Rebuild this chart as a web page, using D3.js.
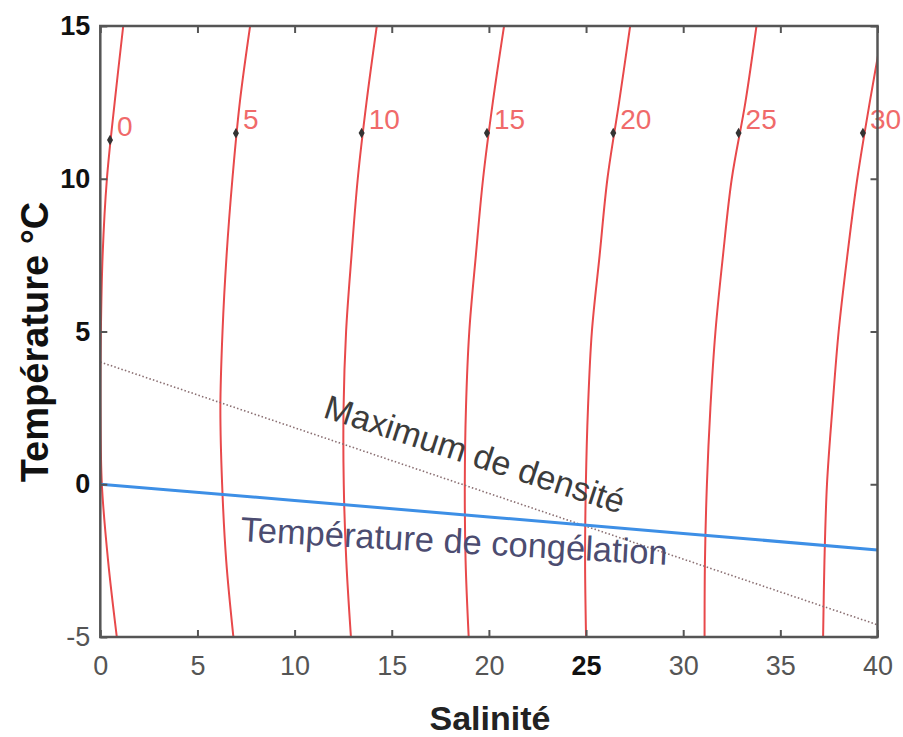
<!doctype html>
<html>
<head>
<meta charset="UTF-8">
<title>Salinité - Température</title>
<script src="https://d3js.org/d3.v7.min.js"></script>
<style>
  body { margin: 0; background: #fff; }
  * { font-family: "Liberation Sans", Arial, sans-serif; }
</style>
</head>
<body>
<svg id="chart" width="903" height="737"></svg>
<script>
var tempLevels = [15, 12.5, 10, 7.5, 5, 2.5, 0, -2.5, -5];

// salinity of each sigma-t curve at the temperatures above
var sigma0  = [1.18, 0.74, 0.34, 0.12, 0.03, 0.01, 0.08, 0.40, 0.85];
var sigma5  = [7.71, 7.18, 6.80, 6.50, 6.29, 6.18, 6.27, 6.48, 6.85];
var sigma10 = [14.23, 13.70, 13.25, 12.93, 12.65, 12.52, 12.53, 12.66, 12.90];
var sigma15 = [20.78, 20.20, 19.70, 19.33, 18.99, 18.82, 18.76, 18.80, 18.96];
var sigma20 = [27.27, 26.70, 26.10, 25.70, 25.30, 25.10, 24.99, 24.95, 25.00];
var sigma25 = [33.77, 33.20, 32.50, 32.05, 31.66, 31.40, 31.22, 31.12, 31.10];
var sigma30 = [40.30, 39.60, 38.96, 38.45, 38.00, 37.68, 37.40, 37.27, 37.20];

var sigmaLabels = ["0", "5", "10", "15", "20", "25", "30"];
var sigmaCurves = [sigma0, sigma5, sigma10, sigma15, sigma20, sigma25, sigma30];

// label markers on each curve
var markerS = [0.50, 6.98, 13.45, 19.90, 26.40, 32.85, 39.25];
var markerT = [11.27, 11.49, 11.50, 11.50, 11.50, 11.50, 11.50];

// freezing temperature and temperature of maximum density
var freezeS = [0, 10, 20, 30, 40];
var freezeT = [0, -0.53, -1.07, -1.61, -2.15];
var maxDensS = [0, 40];
var maxDensT = [4.0, -4.6];

var xTicks = [0, 5, 10, 15, 20, 25, 30, 35, 40];
var yTicks = [-5, 0, 5, 10, 15];

var svg = d3.select("#chart");

var x = d3.scaleLinear().domain([0, 40]).range([100.3, 877.5]);
var y = d3.scaleLinear().domain([-5, 15]).range([637, 26]);

svg.append("clipPath").attr("id", "plotClip")
    .append("rect")
    .attr("x", x(0)).attr("y", y(15))
    .attr("width", x(40) - x(0)).attr("height", y(-5) - y(15));

var plot = svg.append("g").attr("clip-path", "url(#plotClip)");

// sigma-t curves
var curveLine = d3.line()
    .x(function(d) { return x(d[0]); })
    .y(function(d) { return y(d[1]); })
    .curve(d3.curveCatmullRom);

sigmaCurves.forEach(function(vals) {
    var pts = vals.map(function(s, i) { return [s, tempLevels[i]]; });
    plot.append("path")
        .datum(pts)
        .attr("fill", "none")
        .attr("stroke", "#e8494b")
        .attr("stroke-width", 2)
        .attr("d", curveLine);
});

// max density dotted line
var straight = d3.line()
    .x(function(d) { return x(d[0]); })
    .y(function(d) { return y(d[1]); });

plot.append("path")
    .datum(maxDensS.map(function(s, i) { return [s, maxDensT[i]]; }))
    .attr("fill", "none")
    .attr("stroke", "#8a6f72")
    .attr("stroke-width", 1.6)
    .attr("stroke-dasharray", "1.5 2.2")
    .attr("d", straight);

// freezing line
plot.append("path")
    .datum(freezeS.map(function(s, i) { return [s, freezeT[i]]; }))
    .attr("fill", "none")
    .attr("stroke", "#3d8fe6")
    .attr("stroke-width", 3)
    .attr("d", straight);

// markers + labels
var diamond = d3.symbol().type(d3.symbolDiamond).size(32);
markerS.forEach(function(s, i) {
    plot.append("path")
        .attr("d", diamond)
        .attr("fill", "#333")
        .attr("transform", "translate(" + x(s) + "," + y(markerT[i]) + ")");
    svg.append("text")
        .attr("x", x(s) + 7)
        .attr("y", y(markerT[i]) - 4)
        .attr("font-size", 28)
        .attr("fill", "#f06a6a")
        .text(sigmaLabels[i]);
});

// annotations
svg.append("text")
    .attr("transform", "translate(322,417) rotate(18)")
    .attr("font-size", 34)
    .attr("fill", "#3c3c3c")
    .text("Maximum de densité");

svg.append("text")
    .attr("transform", "translate(240,541) rotate(3.2)")
    .attr("font-size", 34.5)
    .attr("fill", "#4c4c70")
    .text("Température de congélation");

// axes
var axisCol = "#555";
var fmt = function(d) { return String(d); };
var gx = svg.append("g")
    .attr("transform", "translate(0," + y(-5) + ")")
    .call(d3.axisBottom(x).tickValues(xTicks).tickFormat(fmt).tickSize(-7).tickSizeOuter(0).tickPadding(19));
var gxTop = svg.append("g")
    .attr("transform", "translate(0," + y(15) + ")")
    .call(d3.axisTop(x).tickValues(xTicks).tickSize(-7).tickSizeOuter(0).tickFormat(""));
var gy = svg.append("g")
    .attr("transform", "translate(" + x(0) + ",0)")
    .call(d3.axisLeft(y).tickValues(yTicks).tickFormat(fmt).tickSize(-7).tickSizeOuter(0).tickPadding(10));
var gyRight = svg.append("g")
    .attr("transform", "translate(" + x(40) + ",0)")
    .call(d3.axisRight(y).tickValues(yTicks).tickSize(-7).tickSizeOuter(0).tickFormat(""));

[gx, gxTop, gy, gyRight].forEach(function(g) {
    g.select(".domain").remove();
    g.selectAll(".tick line").attr("stroke", axisCol).attr("stroke-width", 2);
});

gx.selectAll("text")
    .attr("font-size", 27)
    .attr("font-family", "Liberation Sans, Arial, sans-serif")
    .attr("fill", function(d) { return d === 25 ? "#111" : "#555"; })
    .attr("font-weight", function(d) { return d === 25 ? "bold" : "normal"; });

gy.selectAll("text")
    .attr("font-size", 27)
    .attr("font-family", "Liberation Sans, Arial, sans-serif")
    .attr("fill", function(d) { return d === -5 ? "#555" : "#111"; })
    .attr("font-weight", function(d) { return d === -5 ? "normal" : "bold"; });

// box
svg.append("rect")
    .attr("x", x(0)).attr("y", y(15))
    .attr("width", x(40) - x(0)).attr("height", y(-5) - y(15))
    .attr("fill", "none")
    .attr("stroke", axisCol)
    .attr("stroke-width", 2.5);

// axis titles
svg.append("text")
    .attr("x", 490)
    .attr("y", 730)
    .attr("text-anchor", "middle")
    .attr("font-size", 34)
    .attr("font-weight", "bold")
    .attr("fill", "#222")
    .text("Salinité");

svg.append("text")
    .attr("transform", "translate(48,342) rotate(-90)")
    .attr("text-anchor", "middle")
    .attr("font-size", 38)
    .attr("font-weight", "bold")
    .attr("fill", "#111")
    .text("Température °C");
</script>
</body>
</html>
